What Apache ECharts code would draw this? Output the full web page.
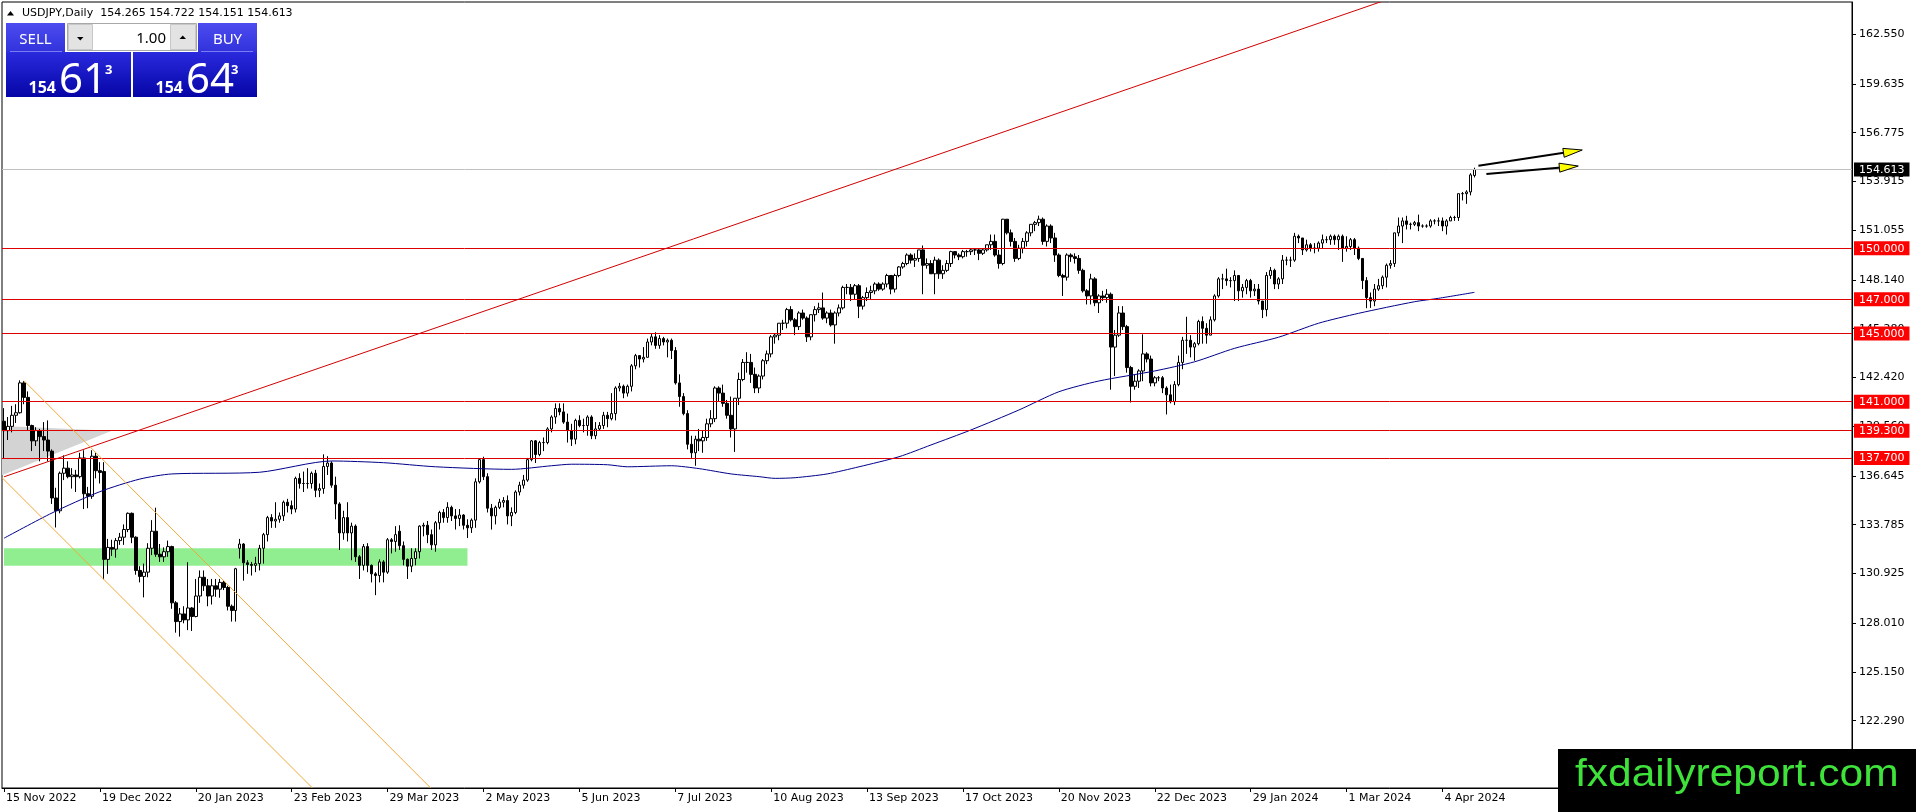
<!DOCTYPE html>
<html>
<head>
<meta charset="utf-8">
<title>USDJPY Daily</title>
<script src="https://cdn.jsdelivr.net/npm/echarts@6/dist/echarts.min.js"></script>
<style>
html,body{margin:0;padding:0;background:#fff;}
#chart{width:1916px;height:812px;}
</style>
</head>
<body>
<div id="chart"></div>
<script>
// ---------- DATA ----------
// daily bars: [open, close, low, high], first bar = 15 Nov 2022
const bars = [
[139.85,139.30,137.67,140.62],[139.30,139.55,138.75,140.10],[139.55,140.20,139.20,140.75],[140.20,140.35,139.75,140.85],
[140.35,142.10,140.30,142.25],[142.10,141.25,140.85,142.20],[141.25,139.60,139.30,141.60],[139.60,138.70,138.10,139.65],
[138.70,139.30,138.40,139.50],[139.30,138.95,137.50,139.40],[138.95,138.75,138.10,139.80],[138.75,138.10,137.50,139.90],
[138.10,135.35,135.00,138.20],[135.35,134.60,133.62,135.95],[134.60,136.80,134.45,136.90],[136.80,137.10,136.40,137.85],
[137.10,136.60,136.50,137.50],[136.60,136.70,135.90,137.10],[136.70,136.60,135.70,137.00],[136.60,137.70,136.50,138.00],
[137.70,135.60,134.70,138.15],[135.60,135.45,134.75,136.00],[135.45,137.80,135.30,138.15],[137.80,136.95,136.50,138.00],
[136.95,136.85,136.20,137.45],[136.90,131.75,130.58,137.45],[131.75,132.45,130.90,132.95],[132.45,132.35,131.95,132.90],
[132.35,132.85,131.85,133.00],[132.85,133.05,132.60,133.30],[133.05,133.50,132.60,133.80],[133.50,134.45,133.35,134.50],
[134.45,133.05,132.70,134.50],[133.05,131.10,130.85,133.10],[131.10,130.75,130.40,131.35],[130.75,131.00,129.52,131.50],
[131.00,132.40,130.70,132.70],[132.40,133.40,132.00,134.05],[133.40,132.05,131.90,134.78],[132.05,131.90,131.60,132.65],
[131.90,132.20,131.60,132.45],[132.20,132.50,131.90,132.85],[132.50,129.20,128.85,132.55],[129.20,128.10,127.45,129.30],
[128.10,128.55,127.22,128.90],[128.55,128.20,128.00,129.00],[128.20,128.90,127.60,131.58],[128.90,128.40,127.55,128.95],
[128.40,129.60,128.35,130.60],[129.60,130.70,129.20,131.10],[130.70,130.20,129.90,131.10],[130.20,129.60,129.00,130.60],
[129.60,130.20,129.10,130.60],[130.20,130.00,129.55,130.60],[130.00,130.40,129.50,130.60],[130.40,130.10,129.95,130.50],
[130.10,129.00,128.75,130.20],[129.00,128.75,128.10,129.10],[128.75,131.20,128.10,131.25],[132.40,132.65,131.80,132.95],
[132.65,131.55,130.50,132.70],[131.55,131.45,130.90,131.70],[131.45,131.40,130.80,131.60],[131.40,131.50,131.00,131.90],
[131.50,132.40,131.10,132.60],[132.40,133.20,131.50,133.30],[133.20,134.20,132.80,134.30],[134.20,134.00,133.60,134.40],
[134.00,134.10,133.60,135.10],[134.10,134.30,133.90,134.50],[134.30,135.10,134.00,135.20],[135.10,134.90,134.50,135.30],
[134.90,134.70,134.40,135.20],[134.70,136.50,134.50,136.60],[136.50,136.20,135.90,136.80],[136.20,136.20,135.70,136.90],
[136.20,136.20,135.90,137.10],[136.20,136.80,135.90,136.90],[136.80,135.80,135.40,137.00],[135.80,135.90,135.40,136.20],
[135.90,137.20,135.60,137.91],[137.20,137.40,136.70,137.80],[137.40,136.10,135.95,137.50],[136.10,135.00,134.10,136.60],
[135.00,133.30,132.30,135.10],[133.30,134.20,132.90,134.60],[134.20,133.30,132.80,135.10],[133.30,133.70,131.70,133.90],
[133.70,131.90,131.60,133.80],[131.90,131.40,130.60,132.00],[131.40,132.50,131.10,132.65],[132.50,131.40,131.00,132.70],
[131.40,130.90,130.40,131.45],[130.90,130.80,129.65,131.00],[130.80,131.60,130.40,131.75],[131.60,131.00,130.40,131.70],
[131.00,132.90,130.90,133.00],[132.90,132.80,132.10,133.00],[132.80,133.20,132.20,133.70],[133.40,132.55,132.30,133.75],
[132.55,131.75,131.40,132.80],[131.75,131.35,130.60,131.80],[131.35,131.80,131.00,132.40],[131.80,132.20,131.40,132.40],
[132.20,133.70,131.80,133.75],[133.70,133.75,133.10,133.90],[133.75,133.20,132.70,134.00],[133.20,132.60,132.30,133.50],
[132.60,133.90,132.20,134.00],[133.90,134.50,133.50,134.60],[134.50,134.20,133.90,134.70],[134.20,134.80,133.90,135.10],
[134.80,134.30,134.00,134.90],[134.30,134.15,133.50,134.70],[134.15,134.35,133.70,134.70],[134.35,133.75,133.50,134.40],
[133.75,133.60,133.00,134.10],[133.60,134.05,133.30,134.15],[134.05,136.30,133.60,136.50],[136.30,137.60,136.20,137.65],
[137.60,136.60,136.40,137.77],[136.60,134.75,134.50,136.80],[134.75,134.30,133.50,135.00],[134.30,134.80,133.80,134.90],
[134.80,135.10,134.70,135.30],[135.10,135.20,134.80,135.40],[135.20,134.30,133.80,135.50],[134.30,134.50,133.70,134.80],
[134.50,135.70,134.40,135.80],[135.70,136.10,135.50,136.30],[136.10,136.40,135.90,136.70],[136.40,137.60,136.30,137.70],
[137.60,138.70,137.50,138.75],[138.70,137.90,137.40,138.75],[137.90,138.60,137.80,138.70],[138.60,138.60,138.10,138.90],
[138.60,139.40,138.50,139.50],[139.40,140.10,139.20,140.20],[140.10,140.60,139.70,140.90],[140.60,140.40,140.20,140.90],
[140.40,139.80,139.70,140.90],[139.80,139.30,138.60,140.30],[139.30,138.80,138.40,139.70],[138.80,139.90,138.50,140.00],
[139.90,139.60,139.50,140.20],[139.60,139.60,139.20,140.00],[139.60,140.10,139.00,140.20],[140.10,139.00,138.80,140.20],
[139.00,139.40,138.80,139.80],[139.40,139.60,139.30,139.80],[139.60,140.20,139.40,140.40],[140.20,140.00,139.50,140.40],
[140.00,140.30,139.90,141.50],[140.30,141.80,139.90,141.90],[141.80,141.90,141.60,142.10],[141.90,141.50,141.20,142.00],
[141.50,141.90,141.30,142.00],[141.90,143.10,141.60,143.20],[143.10,143.70,142.90,143.80],[143.70,143.50,143.00,143.70],
[143.50,143.60,143.30,144.20],[143.60,144.50,143.60,144.70],[144.50,144.80,144.30,145.00],[144.80,144.30,144.10,145.07],
[144.30,144.70,144.10,144.90],[144.70,144.50,144.30,144.80],[144.50,144.60,143.60,144.70],[144.60,144.00,143.50,144.70],
[144.00,142.10,142.00,144.20],[142.10,141.30,140.70,142.60],[141.30,140.30,140.20,141.50],[140.30,138.50,138.20,140.50],
[138.50,138.00,137.70,139.00],[138.00,138.80,137.24,139.00],[138.80,138.70,138.10,139.40],[138.70,138.90,138.00,139.30],
[138.90,139.70,138.70,140.00],[139.70,140.00,139.50,140.50],[140.00,141.80,139.80,141.90],[141.80,141.50,141.00,141.90],
[141.50,140.90,140.70,142.00],[140.90,140.20,140.00,141.10],[140.20,139.40,138.90,141.30],[139.40,141.20,138.05,141.20],
[141.20,142.30,140.80,142.70],[142.30,143.30,142.20,143.50],[143.30,143.30,142.70,143.90],[143.30,142.60,142.10,143.80],
[142.60,141.80,141.50,143.00],[141.80,142.50,141.50,142.60],[142.50,143.40,142.30,143.50],[143.40,143.80,143.20,144.00],
[143.80,144.80,143.60,144.90],[144.80,144.90,144.40,145.00],[144.90,145.60,144.60,145.60],[145.60,145.60,145.20,145.80],
[145.60,146.40,145.30,146.50],[146.40,145.80,145.70,146.60],[145.80,145.40,144.90,145.90],[145.40,146.20,145.20,146.30],
[146.20,145.90,145.80,146.40],[145.90,144.80,144.50,146.00],[144.80,146.10,144.60,146.10],[146.10,146.40,145.70,146.60],
[146.40,146.50,146.20,146.80],[146.50,145.90,145.80,147.40],[145.90,146.20,145.60,146.30],[146.20,145.50,145.40,146.40],
[145.50,146.20,144.40,146.30],[146.20,146.50,146.00,146.70],[146.50,147.70,146.40,147.80],[147.70,147.70,147.30,147.90],
[147.70,147.30,146.90,147.90],[147.30,147.80,147.00,147.90],[147.80,146.60,145.90,147.90],[146.60,147.10,146.40,147.20],
[147.10,147.40,146.90,147.70],[147.40,147.50,147.00,147.80],[147.50,147.90,147.30,148.00],[147.90,147.60,147.50,148.00],
[147.60,147.90,147.50,148.00],[147.90,148.40,147.70,148.50],[148.40,147.60,147.30,148.40],[147.60,148.40,147.40,148.50],
[148.40,148.90,148.30,148.95],[148.90,149.10,148.80,149.20],[149.10,149.60,149.00,149.70],[149.60,149.30,149.10,149.70],
[149.30,149.40,148.90,149.70],[149.40,149.90,149.20,149.90],[149.90,149.00,147.30,150.16],[149.00,149.10,148.80,149.40],
[149.10,148.50,148.50,149.30],[148.50,149.30,147.30,149.50],[149.30,148.50,148.20,149.40],[148.50,148.70,148.20,149.00],
[148.70,149.10,148.60,149.30],[149.10,149.80,148.90,149.85],[149.80,149.60,149.40,149.80],[149.60,149.50,149.30,149.70],
[149.50,149.80,149.40,149.90],[149.80,149.80,149.50,149.90],[149.80,149.90,149.60,150.00],[149.90,149.90,149.60,149.95],
[149.90,149.70,149.30,150.00],[149.70,149.90,149.60,150.00],[149.90,150.20,149.80,150.20],[150.20,150.40,149.90,150.80],
[150.40,149.60,149.50,150.80],[149.60,149.10,148.80,149.90],[149.10,151.70,149.00,151.72],[151.70,150.90,150.80,151.70],
[150.90,150.40,150.10,151.10],[150.40,149.40,149.20,150.60],[149.40,150.00,149.30,150.20],[150.00,150.40,149.70,150.60],
[150.40,150.90,150.10,151.00],[150.90,151.40,150.70,151.40],[151.40,151.50,151.00,151.60],[151.50,151.70,151.30,151.91],
[151.70,150.40,150.20,151.80],[150.40,151.30,150.10,151.40],[151.30,150.60,150.30,151.40],[150.60,149.60,149.20,150.90],
[149.60,148.40,148.30,149.70],[148.40,148.30,147.20,148.50],[148.30,149.60,148.10,149.70],[149.60,149.50,149.20,149.70],
[149.50,149.40,149.10,149.70],[149.40,148.70,148.50,149.60],[148.70,147.50,147.40,148.80],[147.50,147.20,146.70,147.60],
[147.20,148.20,146.70,148.50],[148.20,146.80,146.60,148.30],[146.80,147.20,146.20,147.30],[147.20,147.10,146.90,147.50],
[147.10,147.30,146.80,147.60],[147.30,144.20,141.70,147.40],[144.20,144.90,142.50,145.20],[144.90,146.20,144.80,146.60],
[146.20,145.40,145.20,146.60],[145.40,143.00,142.70,145.50],[143.00,141.90,140.95,143.10],[141.90,142.20,141.70,142.60],
[142.20,142.80,141.80,142.90],[142.80,143.80,142.20,144.95],[143.80,143.50,143.30,143.90],[143.50,142.10,141.90,143.70],
[142.10,142.40,141.90,142.50],[142.40,142.40,142.20,142.50],[142.40,141.80,141.50,142.50],[141.80,141.40,140.25,141.90],
[141.40,141.00,140.90,142.00],[141.00,142.00,140.80,142.20],[142.00,143.30,141.90,143.70],[143.30,144.60,142.90,144.80],
[144.60,144.60,143.80,145.98],[144.60,144.20,143.60,144.90],[144.20,144.40,143.40,144.50],[144.40,145.70,144.30,145.80],
[145.70,145.30,144.40,146.00],[145.30,144.90,144.40,145.60],[144.90,145.80,144.90,146.00],[145.80,147.20,145.70,147.30],
[147.20,148.20,147.10,148.30],[148.20,148.20,147.60,148.50],[148.20,148.10,147.80,148.80],[148.10,148.10,147.70,148.30],
[148.10,148.40,146.90,148.70],[148.40,147.50,146.90,148.40],[147.50,147.70,147.10,147.90],[147.70,148.10,147.30,148.20],
[148.10,147.50,147.10,148.20],[147.50,147.60,147.20,147.90],[147.60,146.90,146.70,147.90],[146.90,146.40,145.90,146.90],
[146.40,148.40,146.00,148.60],[148.40,148.70,148.20,148.90],[148.70,147.90,147.60,148.80],[147.90,148.20,147.60,148.30],
[148.20,149.30,147.90,149.60],[149.30,149.30,149.00,149.50],[149.30,149.30,148.90,149.50],[149.30,150.70,149.20,150.90],
[150.70,150.60,150.30,150.80],[150.60,149.90,149.60,150.60],[149.90,150.20,149.80,150.50],[150.20,150.00,149.80,150.30],
[150.00,150.00,149.70,150.30],[150.00,150.30,149.80,150.40],[150.30,150.50,150.00,150.80],[150.50,150.50,150.30,150.70],
[150.50,150.70,150.20,150.80],[150.70,150.50,150.20,150.80],[150.50,150.70,149.90,150.80],[150.70,150.00,149.20,150.80],
[150.00,150.10,149.80,150.70],[150.10,150.50,149.90,150.60],[150.50,150.00,149.60,150.60],[150.00,149.40,149.30,150.10],
[149.40,148.10,147.60,149.40],[148.10,147.10,146.48,148.30],[147.10,146.90,146.50,147.40],[146.90,147.60,146.60,147.90],
[147.60,147.80,147.50,148.20],[147.80,148.30,147.60,148.40],[148.30,149.00,147.70,149.10],[149.00,149.10,148.80,149.30],
[149.10,150.90,148.90,150.90],[150.90,151.30,150.70,151.80],[151.30,151.60,150.30,151.80],[151.60,151.40,151.10,151.90],
[151.40,151.40,151.10,151.50],[151.40,151.50,151.30,151.60],[151.50,151.30,151.00,151.97],[151.30,151.30,151.20,151.40],
[151.30,151.30,151.20,151.40],[151.30,151.60,151.20,151.70],[151.60,151.60,151.40,151.70],[151.60,151.60,151.30,151.80],
[151.60,151.30,151.00,151.80],[151.30,151.60,150.80,151.70],[151.60,151.80,151.60,151.90],[151.80,151.80,151.60,151.90],
[151.80,153.20,151.60,153.20],[153.20,153.20,152.80,153.30],[153.20,153.30,152.60,153.40],[153.30,154.30,153.10,154.40],
[154.265,154.613,154.151,154.722]
];

// moving average: [bar index, price]
const maLine = [
[0,132.99],[12,134.47],[24,135.72],[34,136.46],[42,136.76],[64,136.86],[82,137.52],[95,137.42],[108,137.18],
[127,137.03],[137,137.24],[142,137.33],[151,137.30],[156,137.18],[167,137.24],[174,137.07],[182,136.76],[189,136.60],
[193,136.50],[198,136.54],[206,136.76],[214,137.18],[224,137.77],[232,138.46],[242,139.34],[254,140.51],[264,141.58],
[274,142.21],[288,142.80],[298,143.34],[308,144.13],[319,144.78],[329,145.60],[339,146.18],[353,146.86],[359,147.06],[368,147.41]
];

const levels = [150.000, 147.000, 145.000, 141.000, 139.300, 137.700];
const currentPrice = 154.613;
const priceTicks = [162.550,159.635,156.775,153.915,151.055,148.140,145.280,142.420,139.560,136.645,133.785,130.925,128.010,125.150,122.290];
const dateTicks = ['15 Nov 2022','19 Dec 2022','20 Jan 2023','23 Feb 2023','29 Mar 2023','2 May 2023','5 Jun 2023','7 Jul 2023',
  '10 Aug 2023','13 Sep 2023','17 Oct 2023','20 Nov 2023','22 Dec 2023','29 Jan 2024','1 Mar 2024','4 Apr 2024'];
const dateTickStep = 24;     // bars between date labels
const slotCount = 463;       // visible bar slots incl. empty future space

// drawing objects in [bar index, price]
const trendLine = [[0,136.59],[360,165.70]];
const channelUpper = [[4.83,142.23],[120,115.24]];
const channelLower = [[-1,136.66],[100,113.00]];
const greenZone = [[-0.5,132.40],[115.9,131.38]];
const grayTriangle = [[-1,139.58],[26.5,139.30],[-1,136.64]];
const arrowUpper = [[369.4,154.84],[394.8,155.76]];
const arrowLower = [[371.1,154.35],[393.9,154.82]];

const header = {symbol:'USDJPY,Daily', o:'154.265', h:'154.722', l:'154.151', c:'154.613'};
const quote = {bidBig:'154', bidPips:'61', bidFrac:'3', askBig:'154', askPips:'64', askFrac:'3', lot:'1.00'};

// ---------- CHART ----------
const slots = Array.from({length: slotCount}, (_, i) => String(i));
const FONT = 'DejaVu Sans';
const chart = echarts.init(document.getElementById('chart'), null, {renderer:'canvas'});

const showDate = (idx) => idx % dateTickStep === 0 && (idx / dateTickStep) < dateTicks.length;

function arrowGroup(api, pts){
  const a = api.coord(pts[0]), b = api.coord(pts[1]);
  const dx = b[0]-a[0], dy = b[1]-a[1], L = Math.hypot(dx, dy), ux = dx/L, uy = dy/L;
  const hl = 19, hw = 4.5;
  const bx = b[0]-ux*hl, by = b[1]-uy*hl;
  return {type:'group', children:[
    {type:'line', shape:{x1:a[0], y1:a[1], x2:bx+ux*2, y2:by+uy*2}, style:{stroke:'#000', lineWidth:2}},
    {type:'polygon', shape:{points:[[b[0],b[1]],[bx-uy*hw, by+ux*hw],[bx+uy*hw, by-ux*hw]]},
      style:{fill:'#ffff00', stroke:'#000', lineWidth:1}}
  ]};
}

const blueTop = {type:'linear', x:0, y:0, x2:0, y2:1, colorStops:[{offset:0,color:'#4c4cf0'},{offset:1,color:'#3232dc'}]};
const blueBox = {type:'linear', x:0, y:0, x2:0, y2:1, colorStops:[{offset:0,color:'#2a2ade'},{offset:1,color:'#0505a6'}]};

const option = {
  animation: false,
  backgroundColor: '#ffffff',
  textStyle: {fontFamily: FONT},
  grid: {left: 2, top: 2, right: 64, bottom: 24, show: true, borderColor: '#000', borderWidth: 1, backgroundColor: 'transparent'},
  xAxis: {
    type: 'category', data: slots, boundaryGap: true,
    axisLine: {lineStyle: {color: '#000', width: 1}},
    axisTick: {show: true, alignWithLabel: true, length: 4, interval: (idx) => showDate(idx), lineStyle: {color: '#000'}},
    axisLabel: {
      interval: (idx) => showDate(idx),
      formatter: (v, idx) => dateTicks[Math.round(Number(v) / dateTickStep)],
      align: 'left', padding: [0,0,0,2], margin: 5, color: '#000', fontSize: 11, fontFamily: FONT
    },
    splitLine: {show: false}
  },
  yAxis: [
    {
      type: 'value', position: 'right', min: 118.34, max: 164.44, scale: true,
      axisLine: {show: true, lineStyle: {color: '#000', width: 1}},
      axisTick: {show: true, length: 4, customValues: priceTicks, lineStyle: {color: '#000'}},
      axisLabel: {customValues: priceTicks, formatter: (v) => Number(v).toFixed(3), margin: 7, color: '#000', fontSize: 11, fontFamily: FONT},
      splitLine: {show: false}
    },
    {
      type: 'value', position: 'right', min: 118.34, max: 164.44, scale: true,
      axisLine: {show: false}, axisTick: {show: false}, splitLine: {show: false},
      axisLabel: {
        customValues: levels.concat([currentPrice]), margin: 2,
        formatter: (v) => {
          const s = Number(v).toFixed(3);
          return Math.abs(v - currentPrice) < 1e-6 ? '{k|' + s + '}' : '{r|' + s + '}';
        },
        rich: {
          r: {backgroundColor: '#ff0000', color: '#ffffff', padding: [2,5,1,5], fontSize: 11, fontFamily: FONT, lineHeight: 12},
          k: {backgroundColor: '#000000', color: '#ffffff', padding: [2,5,1,5], fontSize: 11, fontFamily: FONT, lineHeight: 12}
        }
      }
    }
  ],
  series: [
    {
      type: 'custom', coordinateSystem: 'cartesian2d', clip: true, silent: true, z: 1,
      data: [[0,140],[1,140]],
      renderItem: (params, api) => {
        if (params.dataIndex === 0) {
          const a = api.coord(greenZone[0]), b = api.coord(greenZone[1]);
          return {type:'rect', shape:{x:a[0], y:a[1], width:b[0]-a[0], height:b[1]-a[1]}, style:{fill:'#90ee90'}};
        }
        return {type:'polygon', shape:{points: grayTriangle.map(p => api.coord(p))}, style:{fill:'#d3d3d3'}};
      }
    },
    {
      type: 'candlestick', data: bars, barWidth: 3, z: 3,
      itemStyle: {color: '#ffffff', color0: '#000000', borderColor: '#000000', borderColor0: '#000000', borderWidth: 1},
      markLine: {
        silent: true, symbol: ['none','none'], label: {show: false}, animation: false,
        data: levels.map(v => ({yAxis: v, lineStyle: {color: '#dd0000', width: 1, type: 'solid'}}))
          .concat([{yAxis: currentPrice, lineStyle: {color: '#c0c0c0', width: 1, type: 'solid'}}])
      }
    },
    {
      type: 'line', data: maLine, showSymbol: false, symbol: 'none', smooth: 0.25, z: 4, silent: true,
      lineStyle: {color: '#00008b', width: 1}
    },
    {
      type: 'custom', coordinateSystem: 'cartesian2d', clip: true, silent: true, z: 5,
      data: [[0,140],[1,140],[2,140],[3,140],[4,140]],
      renderItem: (params, api) => {
        const k = params.dataIndex;
        if (k === 0) return {type:'polyline', shape:{points: trendLine.map(p => api.coord(p))}, style:{stroke:'#d00000', lineWidth:1, fill:null}};
        if (k === 1) return {type:'polyline', shape:{points: channelUpper.map(p => api.coord(p))}, style:{stroke:'#f2a93b', lineWidth:1, fill:null}};
        if (k === 2) return {type:'polyline', shape:{points: channelLower.map(p => api.coord(p))}, style:{stroke:'#f2a93b', lineWidth:1, fill:null}};
        if (k === 3) return arrowGroup(api, arrowUpper);
        return arrowGroup(api, arrowLower);
      }
    }
  ],
  graphic: [
    // header line
    {type:'polygon', z:100, shape:{points:[[7,15.5],[14,15.5],[10.5,11]]}, style:{fill:'#000'}},
    {type:'text', z:100, x:22, y:13.5, style:{text: header.symbol + '  ' + header.o + ' ' + header.h + ' ' + header.l + ' ' + header.c,
      fill:'#000', font:'11px "DejaVu Sans"', textAlign:'left', textVerticalAlign:'middle'}},
    // SELL header
    {type:'rect', z:100, shape:{x:6, y:23, width:59, height:29}, style:{fill: blueTop}},
    {type:'line', z:101, shape:{x1:10, y1:51.5, x2:62, y2:51.5}, style:{stroke:'#7a7af2', lineWidth:1}},
    {type:'text', z:101, x:35.5, y:39.5, style:{text:'SELL', fill:'#fff', font:'15px "Noto Sans"', textAlign:'center', textVerticalAlign:'middle'}},
    // lot spinner
    {type:'rect', z:100, shape:{x:67.5, y:23.5, width:129, height:27}, style:{fill:'#fff', stroke:'#a8a8a8', lineWidth:1}},
    {type:'rect', z:101, shape:{x:68.5, y:24.5, width:24, height:25}, style:{fill:'#e3e3e3', stroke:'#c8c8c8', lineWidth:1}},
    {type:'rect', z:101, shape:{x:170.5, y:24.5, width:25, height:25}, style:{fill:'#e3e3e3', stroke:'#c8c8c8', lineWidth:1}},
    {type:'polygon', z:102, shape:{points:[[77,37],[83.5,37],[80.25,40.5]]}, style:{fill:'#000'}},
    {type:'polygon', z:102, shape:{points:[[179.5,39],[186,39],[182.75,35.5]]}, style:{fill:'#000'}},
    {type:'text', z:101, x:166, y:38.5, style:{text: quote.lot, fill:'#000', font:'15px "Noto Sans"', textAlign:'right', textVerticalAlign:'middle'}},
    // BUY header
    {type:'rect', z:100, shape:{x:198, y:23, width:59, height:29}, style:{fill: blueTop}},
    {type:'line', z:101, shape:{x1:201, y1:51.5, x2:253, y2:51.5}, style:{stroke:'#7a7af2', lineWidth:1}},
    {type:'text', z:101, x:227.5, y:39.5, style:{text:'BUY', fill:'#fff', font:'15px "Noto Sans"', textAlign:'center', textVerticalAlign:'middle'}},
    // price boxes
    {type:'rect', z:100, shape:{x:6, y:52, width:125, height:45}, style:{fill: blueBox}},
    {type:'rect', z:100, shape:{x:133, y:52, width:124, height:45}, style:{fill: blueBox}},
    {type:'text', z:101, x:56, y:88.5, style:{text: quote.bidBig, fill:'#fff', font:'bold 16px "Noto Sans"', textAlign:'right', textVerticalAlign:'middle'}},
    {type:'text', z:101, x:59, y:81.5, style:{text: quote.bidPips, fill:'#fff', font:'42px "Noto Sans"', textAlign:'left', textVerticalAlign:'middle'}},
    {type:'text', z:101, x:105, y:70, style:{text: quote.bidFrac, fill:'#fff', font:'bold 13px "Noto Sans"', textAlign:'left', textVerticalAlign:'middle'}},
    {type:'text', z:101, x:183, y:88.5, style:{text: quote.askBig, fill:'#fff', font:'bold 16px "Noto Sans"', textAlign:'right', textVerticalAlign:'middle'}},
    {type:'text', z:101, x:186, y:81.5, style:{text: quote.askPips, fill:'#fff', font:'42px "Noto Sans"', textAlign:'left', textVerticalAlign:'middle'}},
    {type:'text', z:101, x:231, y:70, style:{text: quote.askFrac, fill:'#fff', font:'bold 13px "Noto Sans"', textAlign:'left', textVerticalAlign:'middle'}},
    // watermark
    {type:'rect', z:200, shape:{x:1558, y:749, width:358, height:63}, style:{fill:'#000'}},
    {type:'text', z:201, x:1575, y:775, scaleX:1.09, style:{text:'fxdailyreport.com', fill:'#3ee23a', font:'39px "Liberation Sans"', textAlign:'left', textVerticalAlign:'middle'}}
  ]
};
chart.setOption(option);
</script>
</body>
</html>
